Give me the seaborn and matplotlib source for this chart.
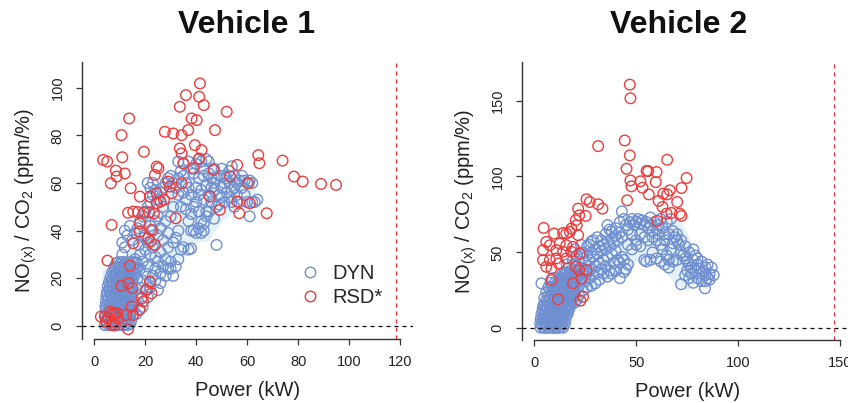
import matplotlib
matplotlib.use("Agg")
import matplotlib.pyplot as plt
import seaborn as sns
import pandas as pd
from matplotlib.lines import Line2D

# ---------------- data ----------------
# Vehicle 1, DYN (power kW, NOx/CO2)
v1_dyn = [
    (4.2,0.3),(5.1,0.8),(6.0,0.2),(6.9,0.6),(7.8,0.1),(8.7,0.7),(9.6,0.3),(10.5,0.9),(11.4,0.2),(12.3,0.6),(13.2,0.4),(14.1,0.8),
    (4.6,2.4),(5.5,2.9),(6.4,2.1),(7.3,2.7),(8.2,2.2),(9.1,2.8),(10.0,2.3),(10.9,2.6),(11.8,2.0),(12.7,2.9),(13.6,2.5),(14.5,2.2),
    (4.3,4.6),(5.2,4.2),(6.1,4.9),(7.0,4.4),(7.9,4.8),(8.8,4.1),(9.7,4.7),(10.6,4.3),(11.5,4.9),(12.4,4.5),(13.3,4.2),(14.2,4.8),(15.1,4.4),
    (4.5,6.7),(5.4,6.2),(6.3,6.9),(7.2,6.4),(8.1,6.8),(9.0,6.3),(9.9,6.6),(10.8,6.1),(11.7,6.8),(12.6,6.5),(13.5,6.9),(14.4,6.2),(15.3,6.7),
    (4.4,8.3),(5.3,8.8),(6.2,8.4),(7.1,8.9),(8.0,8.2),(8.9,8.7),(9.8,8.5),(10.7,8.9),(11.6,8.3),(12.5,8.8),(13.4,8.4),(14.3,8.9),(15.2,8.6),
    (4.6,10.4),(5.5,10.9),(6.4,10.2),(7.3,10.7),(8.2,10.3),(9.1,10.8),(10.0,10.4),(10.9,10.9),(11.8,10.5),(12.7,10.1),(13.6,10.7),(14.5,10.3),
    (4.8,12.6),(5.7,12.2),(6.6,12.9),(7.5,12.4),(8.4,12.8),(9.3,12.3),(10.2,12.7),(11.1,12.2),(12.0,12.9),(12.9,12.5),(13.8,12.8),(14.7,12.3),
    (5.0,14.3),(5.9,14.8),(6.8,14.4),(7.7,14.9),(8.6,14.2),(9.5,14.7),(10.4,14.5),(11.3,14.9),(12.2,14.3),(13.1,14.8),(14.0,14.4),(14.9,14.7),
    (5.3,16.6),(6.2,16.2),(7.1,16.8),(8.0,16.4),(8.9,16.9),(9.8,16.3),(10.7,16.7),(11.6,16.2),(12.5,16.8),(13.4,16.5),(14.3,16.9),
    (5.8,18.4),(6.7,18.9),(7.6,18.3),(8.5,18.8),(9.4,18.5),(10.3,18.9),(11.2,18.2),(12.1,18.7),(13.0,18.4),(13.9,18.9),(14.8,18.3),
    (6.4,20.6),(7.3,20.2),(8.2,20.8),(9.1,20.4),(10.0,20.9),(10.9,20.3),(11.8,20.7),(12.7,20.2),(13.6,20.8),(14.5,20.5),(15.4,20.3),
    (7.0,22.4),(7.9,22.9),(8.8,22.3),(9.7,22.8),(10.6,22.5),(11.5,22.9),(12.4,22.2),(13.3,22.7),(14.2,22.4),(15.1,22.8),(16.0,22.3),
    (7.8,24.6),(8.7,24.2),(9.6,24.8),(10.5,24.3),(11.4,24.9),(12.3,24.4),(13.2,24.7),(14.1,24.2),(15.0,24.8),(15.9,24.5),(16.8,24.1),
    (8.6,26.3),(9.5,26.8),(10.4,26.4),(11.3,26.9),(12.2,26.2),(13.1,26.7),(14.0,26.5),(14.9,26.9),(15.8,26.3),(16.7,26.6),
    (16,10),(17,13),(18,16),(19,19),(20,22),(21,25),(22,18),(23,21),(24,24),(25,27),(17,20),(18,24),(19,27),(20,15),(21,12),
    (19,8),(16.5,5),(18,7),(22,16),(24,19),(26,22),(27,25),(25,15),(26,18),(28,21),(29,24),(30,27),(16,28),(18,30),(20,32),
    (22,30),(17.5,34),(19.5,37),(21,35),(23,33),(24,29),(26,31),(28,28),(30,24),(31,21),(32,25),(33,28),(34,32),(35,33),
    (37,32),(38,32.5),(29,33),(31,35),(27,36),(25,38),(23,40),(26,41),(29,39),(32,37),(33,40),(28,44),(30,46),(31,50),(27,50),
    (25,46),(24,44),(22,42),(20,38),(11,30),(12,33),(11,35),(13,38),(12,40),(14,42),(15,36),(16,39),(17,41),(18,44),(19,46),
    (20,48),(21,50),(22,52),(23,55),(24,57),(22,58),(21,60),(23,60),(25,53),(26,56),(27,58),(28,60),(29,62),(30,63),(31,60),
    (32,58),(33,62),(34,65),(35,63),(36,60),(33,55),(35,56),(37,58),(36,53),(38,55),(34,50),(36,49),(38,47),(39,50),(40,52),
    (41,48),(37,44),(39,40),(41,41),(43,40),(42,44),(44,46),(45,48),(33,69),(35,68),(37,69),(38,66),(40,68),(41,70),(42,69),
    (44,70),(45,69),(43,66),(39,64),(41,62),(43,63),(45,64),(47,66),(46,62),(44,59),(42,57),(40,58),(41,55),(43,53),(45,55),
    (47,57),(46,52),(48,50),(47,45),(48,34),(49,55),(50,58),(51,60),(52,62),(53,65),(54,67),(55,63),(53,60),(52,56),(50,54),
    (49,51),(51,52),(53,54),(54,57),(55,58),(56,60),(57,61),(58,63),(59,61),(60,60),(61,61),(62,60),(58,58),(56,55),(57,52),
    (55,50),(54,52),(59,55),(60,52),(62,52),(63,52),(61,46),(64,53),(48,62),(47,60),(49,63),(50,66),(51,63),(46,58),(44,48),
    (43,43),(40,39),(42,39),(38,40),
]
# Vehicle 1, RSD*
v1_rsd = [
    (3.5,69.7),(5.1,69.0),(6.5,59.9),(8.8,62.7),(8.5,65.2),(12.0,64.0),(11.0,70.8),(10.7,80.1),(13.7,87.1),(14.3,57.8),
    (19.5,73.1),(17.9,54.3),(6.8,42.4),(5.2,27.4),(13.3,47.5),(15.3,48.0),(17.2,47.8),(19.5,47.6),(21.6,47.7),(23.4,47.2),
    (17.9,43.0),(17.9,39.6),(21.2,36.8),(22.1,35.4),(23.8,34.0),(15.3,34.7),(22.5,40.3),(21.9,54.3),(24.5,51.5),(26.0,52.2),
    (27.4,52.9),(24.5,55.7),(24.5,66.9),(25.2,66.2),(23.8,63.4),(27.7,81.5),(31.0,80.8),(29.0,60.6),(29.7,58.5),(30.4,55.7),
    (32.0,45.2),(33.6,92.0),(36.0,96.9),(34.3,80.1),(36.9,82.2),(38.2,87.1),(40.2,86.4),(33.6,74.5),(34.3,72.4),(35.0,68.3),
    (34.3,59.9),(39.5,75.9),(42.1,73.8),(41.2,70.3),(41.5,101.8),(41.2,96.2),(43.0,92.7),(47.4,82.2),(52.0,89.9),(46.8,65.5),
    (45.4,54.3),(49.3,48.7),(38.9,66.2),(53.3,62.7),(56.1,67.6),(56.1,52.2),(56.9,47.3),(60.5,59.9),(61.1,51.5),(64.4,71.7),
    (64.8,68.3),(67.7,47.3),(73.9,69.4),(78.4,62.7),(81.8,60.6),(89.0,59.6),(94.9,59.2),
    (14.0,25.3),(21.9,18.6),(10.7,16.8),(13.4,17.9),(15.0,15.8),(20.6,15.1),(22.5,13.7),(18.6,11.6),(19.2,10.2),(14.7,8.1),
    (17.7,6.7),(15.3,4.6),(12.4,4.6),(4.2,3.9),(6.2,6.0),(8.1,5.3),(5.5,3.2),(7.5,1.8),(6.8,0.4),(9.4,3.2),(13.3,-1.4),
    (2.6,3.9),(4.6,1.8),(7.2,5.3),(9.0,5.3),(8.1,0.4),
]
# Vehicle 2, DYN
v2_dyn = [
    (3.2,0.4),(4.3,0.9),(5.4,0.2),(6.5,0.7),(7.6,0.3),(8.7,0.8),(9.8,0.2),(10.9,0.6),(12.0,0.3),(13.1,0.8),(14.2,0.4),
    (3.0,3.2),(4.1,2.7),(5.2,3.4),(6.3,2.9),(7.4,3.3),(8.5,2.6),(9.6,3.1),(10.7,2.8),(11.8,3.4),(12.9,2.9),(14.0,3.2),(15.1,2.7),
    (3.3,6.2),(4.4,5.7),(5.5,6.4),(6.6,5.9),(7.7,6.3),(8.8,5.6),(9.9,6.1),(11.0,5.8),(12.1,6.4),(13.2,5.9),(14.3,6.2),(15.4,5.7),
    (3.6,9.2),(4.7,8.7),(5.8,9.4),(6.9,8.9),(8.0,9.3),(9.1,8.6),(10.2,9.1),(11.3,8.8),(12.4,9.4),(13.5,8.9),(14.6,9.2),(15.7,8.7),(16.5,9.5),
    (4.2,12.3),(5.3,11.7),(6.4,12.4),(7.5,11.9),(8.6,12.2),(9.7,11.6),(10.8,12.1),(11.9,11.8),(13.0,12.4),(14.1,11.9),(15.2,12.3),(16.3,11.7),(17.2,12.5),
    (5.0,15.2),(6.1,14.7),(7.2,15.4),(8.3,14.9),(9.4,15.3),(10.5,14.6),(11.6,15.1),(12.7,14.8),(13.8,15.4),(14.9,14.9),(16.0,15.2),(17.1,14.7),(18.0,15.5),
    (5.8,18.2),(6.9,17.7),(8.0,18.4),(9.1,17.9),(10.2,18.3),(11.3,17.6),(12.4,18.1),(13.5,17.8),(14.6,18.4),(15.7,17.9),(16.8,18.2),(17.9,17.7),(18.8,18.5),
    (6.8,21.2),(7.9,20.7),(9.0,21.4),(10.1,20.9),(11.2,21.3),(12.3,20.6),(13.4,21.1),(14.5,20.8),(15.6,21.4),(16.7,20.9),(17.8,21.2),(18.9,20.7),(19.8,21.5),
    (7.8,24.2),(8.9,23.7),(10.0,24.4),(11.1,23.9),(12.2,24.3),(13.3,23.6),(14.4,24.1),(15.5,23.8),(16.6,24.4),(17.7,23.9),(18.8,24.2),(19.9,23.7),
    (9.0,27.2),(10.1,26.7),(11.2,27.4),(12.3,26.9),(13.4,27.3),(14.5,26.6),(15.6,27.1),(16.7,26.8),(17.8,27.4),(18.9,26.9),(20.0,27.2),
    (10.4,30.2),(11.5,29.7),(12.6,30.4),(13.7,29.9),(14.8,30.3),(15.9,29.6),(17.0,30.1),(18.1,29.8),(19.2,30.4),(20.3,29.9),
    (12.0,33.2),(13.1,32.7),(14.2,33.4),(15.3,32.9),(16.4,33.3),(17.5,32.6),(18.6,33.1),(19.7,32.8),(20.8,33.4),
    (14.0,36.2),(15.1,35.7),(16.2,36.4),(17.3,35.9),(18.4,36.3),(19.5,35.6),(20.6,36.1),(21.7,35.8),
    (3.6,29.6),(5,20),(6,24),(7,27),(8,30),(9,33),(4.5,15),(20,38),(21,41),(22,44),(23,40),(24,46),(25,43),(26,48),(27,45),
    (28,50),(29,47),(30,52),(31,49),(32,54),(33,51),(34,55),(35,52),(36,57),(37,54),(38,59),(39,56),(40,61),(41,58),(42,63),
    (43,60),(22,35),(24,38),(26,36),(28,39),(30,41),(32,43),(34,45),(36,47),(38,49),(40,51),(25,31),(27,33),(30,29.6),(29,35),
    (31,37),(33,39),(35,41),(37,38),(39,43),(41,45),(43,47),(42,33),(44,37),(45,39),(46,42),(24,50),(26,54),(28,57),(23,55),
    (21,48),(19,45),(20,52),(33,58),(35,62),(37,65),(36,68),(38,64),(40,66),(42,70),(44,72),(43,77),(45,68),(46,65),(47,70),
    (48,72),(49,68),(50,70),(51,72),(52,69),(53,71),(54,68),(55,70),(56,66),(57,68),(58,64),(48,62),(50,58),(52,62),(54,60),
    (56,58),(46,55),(48,52),(50,55),(52,54),(54,45),(55,44),(57,45),(58,60),(60,58),(61,62),(62,55),(63,52),(64,42),(65,48),
    (66,45),(67,52),(68,56),(69,60),(70,58),(71,55),(72,50),(73,48),(74,46),(75,44),(76,42),(77,40),(78,45),(79,48),(80,42),
    (81,39),(82,36),(83,38),(84,35),(85,33),(86,36),(87,40),(88,35),(72,29),(74,35),(76,33),(78,30),(80,33),(82,31),(83.7,26.3),
    (84,31),(86,32),(79,38),(77,36),(75,38),(70,45),(68,44),(66,40),(62,44),(60,46),(58,50),(64,58),(66,62),(63,66),(61,68),
    (59,70),(57,73),(65,70),(67,72),(62,72),(44,45),(42,43),(40,38),(38,36),(36,34),(34,36),(32,32),(28,28),(26,27),(24,25),
    (22,22),(21,19),(20,17),(22,28),(23,32),(25,35),(27,38),(19,30),(18,38),(17,40),(16,42),(15,37),(20,42),(31,60),(29,58),
    (27,55),(60,65),(64,62),(68,64),(70,62),(72,58),(74,54),(76,50),(78,52),(80,46),(82,44),(84,40),(85,42),
]
# Vehicle 2, RSD*
v2_rsd = [
    (46.9,160.5),(47.2,151.5),(44.4,123.7),(31.4,120.0),(46.9,113.9),(65.2,111.0),(45.3,105.1),(55.1,103.6),(55.9,103.6),
    (60.0,102.9),(59.6,96.3),(47.2,97.4),(47.7,93.5),(52.1,96.8),(53.1,92.6),(74.7,99.0),(56.2,88.2),(63.3,88.7),(65.2,88.2),
    (66.5,90.9),(72.2,92.4),(61.0,83.9),(62.9,79.9),(70.1,83.2),(64.9,75.5),(67.3,76.0),(71.4,75.5),(72.2,74.0),(60.3,70.7),
    (45.6,84.3),(25.7,85.0),(27.3,83.2),(31.4,81.7),(33.5,78.8),(21.6,78.8),(22.1,74.4),(25.3,74.0),(20.4,71.2),(20.9,67.9),
    (18.3,65.7),(15.8,62.4),(17.5,63.5),(21.6,61.3),(14.2,62.8),(4.7,66.1),(9.8,62.4),(6.0,56.9),(4.4,51.5),(7.7,54.7),
    (12.6,55.8),(15.8,54.7),(19.1,53.6),(10.9,51.5),(14.2,50.4),(4.4,44.9),(7.7,44.9),(6.0,40.5),(8.5,39.4),(10.9,46.0),
    (12.1,42.7),(15.8,46.0),(18.3,50.4),(22.4,49.3),(20.4,40.5),(22.1,38.3),(25.7,38.3),(23.2,32.8),(19.1,29.6),(8.5,31.8),
    (11.8,19.1),(24.0,20.8),(22.7,18.2),
]
# light envelope bands
v1_band_x = [3, 8, 12, 15, 20, 25, 30, 35, 40, 45, 50, 55, 60, 63]
v1_band_lo = [0, 0, 0, 3, 10, 18, 24, 29, 35, 36, 44, 48, 50, 53]
v1_band_hi = [24, 26, 30, 38, 48, 56, 62, 67, 70, 70, 67, 65, 63, 58]
v2_band_x = [3, 10, 15, 20, 30, 40, 45, 50, 60, 70, 75, 78]
v2_band_lo = [0, 0, 3, 13, 27, 33, 36, 44, 43, 28, 25, 28]
v2_band_hi = [10, 28, 38, 46, 56, 63, 74, 75, 72, 76, 62, 55]
# ticks and reference lines
v1_xticks = [0, 20, 40, 60, 80, 100, 120]
v1_yticks = [0, 20, 40, 60, 80, 100]
v2_xticks = [0, 50, 100, 150]
v2_yticks = [0, 50, 100, 150]
v1_max_power = 118.3
v2_max_power = 147.0
titles = ["Vehicle 1", "Vehicle 2"]
labels = ["DYN", "RSD*"]

# ---------------- styling ----------------
sns.set_style("ticks")
plt.rcParams["font.family"] = ["Liberation Sans", "DejaVu Sans"]
plt.rcParams["mathtext.default"] = "regular"

BLUE = "#6f8fd0"
RED = "#ec3c3c"
BAND = "#e4f1f8"
AXC = "#333333"

W, H = 848, 403
fig = plt.figure(figsize=(W / 100, H / 100), dpi=100)


def px_axes(l, t, r, b):
    return fig.add_axes([l / W, 1 - b / H, (r - l) / W, (b - t) / H])


ax1 = px_axes(82, 62, 413, 339)
ax2 = px_axes(522, 62, 853, 340)


def draw(ax, dyn, rsd, bx, blo, bhi, xt, yt, xlim, ylim, vmax, title_x, title):
    ax.fill_between(bx, blo, bhi, color=BAND, lw=0, zorder=1)
    for pts, col in ((dyn, BLUE), (rsd, RED)):
        df = pd.DataFrame(pts, columns=["power", "ratio"])
        sns.scatterplot(data=df, x="power", y="ratio", ax=ax, s=58, zorder=3)
        coll = ax.collections[-1]
        coll.set_facecolor("none")
        coll.set_edgecolor(col)
        coll.set_linewidth(1.0)
    ax.axhline(0, color="black", lw=0.9, ls=(0, (3.2, 3.2)), zorder=4)
    ax.axvline(vmax, color="#e8262a", lw=0.9, ls=(0, (3.2, 3.2)), zorder=4)
    ax.set_xlim(*xlim)
    ax.set_ylim(*ylim)
    ax.set_xticks(xt)
    ax.set_yticks(yt)
    for s in ("top", "right"):
        ax.spines[s].set_visible(False)
    for s in ("left", "bottom"):
        ax.spines[s].set_color(AXC)
        ax.spines[s].set_linewidth(1.0)
    ax.spines["bottom"].set_bounds(xt[0], xt[-1])
    ax.tick_params(axis="both", direction="out", length=4.5, width=0.9,
                   color=AXC, labelsize=10.5, labelcolor="#222222")
    ax.tick_params(axis="x", pad=7)
    ax.tick_params(axis="y", pad=8, labelrotation=90)
    for lab in ax.get_yticklabels():
        lab.set_va("center")
    ax.set_xlabel("Power (kW)", fontsize=14.5, color="#222222")
    ax.set_ylabel(r"NO$_{(x)}$ / CO$_2$ (ppm/%)", fontsize=14.5, color="#222222")
    ax.xaxis.set_label_coords(0.5, -0.15)
    ax.yaxis.set_label_coords(-0.13, 0.5)
    fig.text(title_x / W, 1 - 25 / H, title, ha="center", va="center",
             fontsize=23, fontweight="bold", color="#111111")


draw(ax1, v1_dyn, v1_rsd, v1_band_x, v1_band_lo, v1_band_hi, v1_xticks, v1_yticks,
     (-4.8, 125.1), (-5.5, 110.8), v1_max_power, 247, titles[0])
draw(ax2, v2_dyn, v2_rsd, v2_band_x, v2_band_lo, v2_band_hi, v2_xticks, v2_yticks,
     (-5.9, 156.2), (-7.7, 175.4), v2_max_power, 679, titles[1])

handles = [Line2D([], [], ls="none", marker="o", ms=7.6, mfc="none", mec=c, mew=1.0)
           for c in (BLUE, RED)]
ax1.legend(handles, labels, loc="upper left", bbox_to_anchor=(0.665, 0.272),
           frameon=False, fontsize=14.5, handlelength=0.8, handletextpad=0.7,
           labelspacing=0.25, borderpad=0, borderaxespad=0)

fig.savefig("out.png", dpi=100)
